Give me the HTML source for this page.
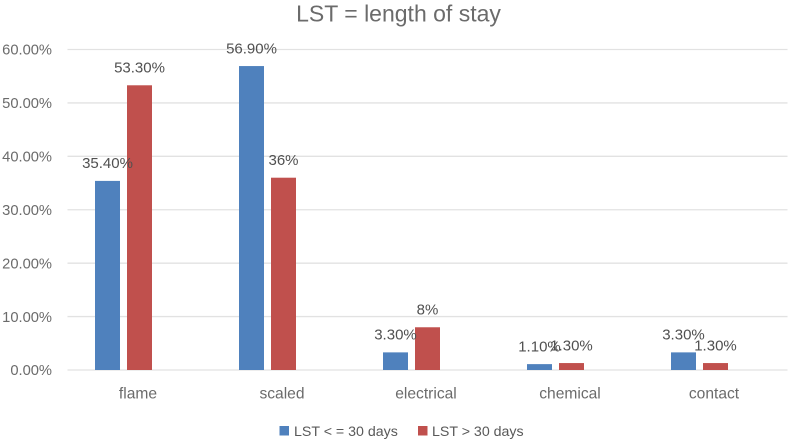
<!DOCTYPE html>
<html lang="en">
<head>
<meta charset="utf-8">
<title>LST = length of stay</title>
<style>
html,body{margin:0;padding:0;background:#fff;}
body{width:788px;height:440px;overflow:hidden;}
svg{display:block;font-family:"Liberation Sans",sans-serif;}
</style>
</head>
<body>
<svg id="chart" width="788" height="440" viewBox="0 0 788 440" xmlns="http://www.w3.org/2000/svg">
  <rect x="0" y="0" width="788" height="440" fill="#ffffff"/>
  <text x="398.5" y="21.5" text-anchor="middle" font-size="23" fill="#6b6b6b">LST = length of stay</text>
  <g id="grid"></g>
  <g id="bars"></g>
  <g id="ylabels"></g>
  <g id="xlabels"></g>
  <g id="dlabels"></g>
  <g>
    <g>
      <rect x="279.5" y="426" width="9.5" height="9.5" fill="#4f81bd"/>
      <text x="294" y="436" font-size="14.2" fill="#595959">LST &lt; = 30 days</text>
    </g>
    <g>
      <rect x="418" y="426" width="9.5" height="9.5" fill="#c0504d"/>
      <text x="432" y="436" font-size="14.2" fill="#595959">LST &gt; 30 days</text>
    </g>
  </g>
</svg>
<script>
const categories = ['flame', 'scaled', 'electrical', 'chemical', 'contact'];
const seriesShort = [35.4, 56.9, 3.3, 1.1, 3.3];
const seriesLong = [53.3, 36, 8, 1.3, 1.3];
const labelsShort = ['35.40%', '56.90%', '3.30%', '1.10%', '3.30%'];
const labelsLong = ['53.30%', '36%', '8%', '1.30%', '1.30%'];
const yTicks = [0, 10, 20, 30, 40, 50, 60];
const yTickLabels = ['0.00%', '10.00%', '20.00%', '30.00%', '40.00%', '50.00%', '60.00%'];

const NS = 'http://www.w3.org/2000/svg';
const plotLeft = 67.5;
const plotRight = 787.5;
const plotBottom = 370;
const plotTop = 49.5;
const yMax = 60;
const barWidth = 25;
const barGap = 7;

function yScale(v) {
  return plotBottom - (v / yMax) * (plotBottom - plotTop);
}
function xCenter(i) {
  return plotLeft + (plotRight - plotLeft) * (i + 0.5) / categories.length;
}
function mk(tag, attrs, parent) {
  const el = document.createElementNS(NS, tag);
  for (const k in attrs) el.setAttribute(k, attrs[k]);
  parent.appendChild(el);
  return el;
}

const grid = document.getElementById('grid');
const bars = document.getElementById('bars');
const ylabels = document.getElementById('ylabels');
const xlabels = document.getElementById('xlabels');
const dlabels = document.getElementById('dlabels');

yTicks.forEach(function (t, i) {
  const line = mk('line', {x1: plotLeft, x2: plotRight, y1: yScale(t), y2: yScale(t), stroke: '#e2e2e2', 'stroke-width': 1.3}, grid);
  
  
  const label = mk('text', {x: 52, y: yScale(t) + 5.2, 'text-anchor': 'end', 'font-size': 14.7, fill: '#6b6b6b'}, ylabels);
  
  
  label.textContent = yTickLabels[i];
});

function drawSeries(values, labels, offset, color, seriesName) {
  values.forEach(function (v, i) {
    const cx = xCenter(i) + offset;
    const top = yScale(v);
    const bar = mk('rect', {x: cx - barWidth / 2, y: top, width: barWidth, height: plotBottom - top, fill: color}, bars);
    
    
    bar.setAttribute('data-series', seriesName);
    const label = mk('text', {x: cx, y: top - 12.8, 'text-anchor': 'middle', 'font-size': 15, fill: '#505050'}, dlabels);
    
    
    label.textContent = labels[i];
  });
}

/* The source chart reserves a slot for an empty third series, so the two
   visible bars sit left of the category centre. */
drawSeries(seriesShort, labelsShort, -(barWidth + barGap), '#4f81bd', 'lst-30-or-less');
drawSeries(seriesLong, labelsLong, 0, '#c0504d', 'lst-over-30');

categories.forEach(function (c, i) {
  const label = mk('text', {x: xCenter(i) - 1.5, y: 398.5, 'text-anchor': 'middle', 'font-size': 15.6, fill: '#6b6b6b'}, xlabels);
  
  
  label.textContent = c;
});
</script>
</body>
</html>
